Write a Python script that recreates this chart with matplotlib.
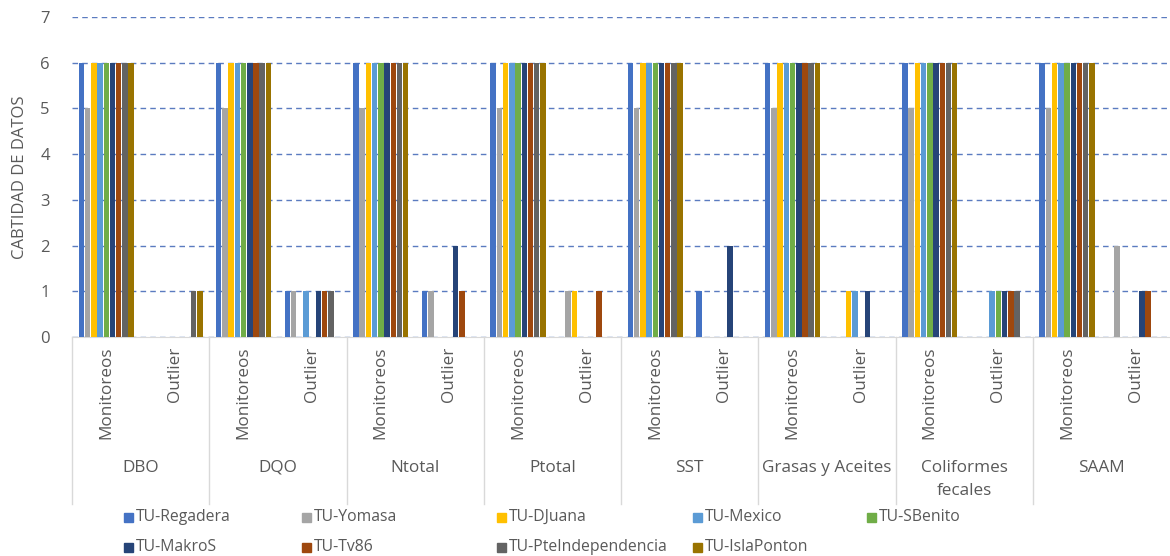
import matplotlib.pyplot as plt
import matplotlib.transforms as mtransforms
from matplotlib.patches import Rectangle
import numpy as np

plt.rcParams["font.family"] = ["Open Sans", "DejaVu Sans"]

# Parameters and sub-categories along the x axis
parametros = ["DBO", "DQO", "Ntotal", "Ptotal", "SST", "Grasas y Aceites",
              "Coliformes\nfecales", "SAAM"]
subcategorias = ["Monitoreos", "Outlier"]

estaciones = ["TU-Regadera", "TU-Yomasa", "TU-DJuana", "TU-Mexico", "TU-SBenito",
              "TU-MakroS", "TU-Tv86", "TU-PteIndependencia", "TU-IslaPonton"]
colores = ["#4472C4", "#A5A5A5", "#FFC000", "#5B9BD5", "#70AD47",
           "#264478", "#9E480E", "#636363", "#997300"]

# Number of monitoring campaigns per station (same for every parameter)
monitoreos = [6, 5, 6, 6, 6, 6, 6, 6, 6]

# Outliers per parameter, one value per station
outliers = {
    "DBO":                 [0, 0, 0, 0, 0, 0, 0, 1, 1],
    "DQO":                 [1, 1, 0, 1, 0, 1, 1, 1, 0],
    "Ntotal":              [1, 1, 0, 0, 0, 2, 1, 0, 0],
    "Ptotal":              [0, 1, 1, 0, 0, 0, 1, 0, 0],
    "SST":                 [1, 0, 0, 0, 0, 2, 0, 0, 0],
    "Grasas y Aceites":    [0, 0, 1, 1, 0, 1, 0, 0, 0],
    "Coliformes\nfecales": [0, 0, 0, 1, 1, 1, 1, 1, 0],
    "SAAM":                [0, 2, 0, 0, 0, 1, 1, 0, 0],
}

texto = "#595959"
fig = plt.figure(figsize=(11.7, 5.56), dpi=100)
ax = fig.add_axes([72 / 1170, 1 - 337 / 556, 1 - 72 / 1170, 320 / 556])

n_slots = len(parametros) * len(subcategorias)
paso = 0.0905
offsets = (np.arange(len(estaciones)) - (len(estaciones) - 1) / 2) * paso

for i, est in enumerate(estaciones):
    valores = []
    for p in parametros:
        valores.append(monitoreos[i])
        valores.append(outliers[p][i])
    x = np.arange(n_slots) + 0.5 + offsets[i]
    ax.bar(x, valores, width=paso * 0.88, color=colores[i], zorder=3)

ax.set_xlim(0, n_slots)
ax.set_ylim(0, 7)
ax.set_yticks(range(0, 8))
ax.yaxis.grid(True, color="#5B7BC0", linestyle=(0, (4, 3)), linewidth=1.0)
ax.set_axisbelow(True)
for s in ["left", "right", "top"]:
    ax.spines[s].set_visible(False)
ax.spines["bottom"].set_color("#D9D9D9")
ax.tick_params(axis="y", length=0, labelsize=12, labelcolor=texto, pad=16)
ax.set_xticks([])
ax.set_ylabel("CABTIDAD DE DATOS", fontsize=12, color=texto, labelpad=9)

# Two-level category axis
trans = mtransforms.blended_transform_factory(ax.transData, ax.transAxes)
fondo = -(504 - 337) / 320
for g, p in enumerate(parametros):
    x0 = g * 2
    ax.plot([x0, x0], [0, fondo], color="#D9D9D9", lw=1, transform=trans, clip_on=False)
    for k, sub in enumerate(subcategorias):
        ax.text(x0 + k + 0.5, -0.03, sub, rotation=90, ha="center", va="top",
                fontsize=12.3, color=texto, transform=trans)
    ax.text(x0 + 1, -(460 - 337) / 320, p, ha="center", va="top", fontsize=12.3,
            color=texto, transform=trans, linespacing=1.6)

# Legend in two rows below the chart
col_x = [124, 302, 497, 693, 867]
fila_y = [517, 547]
for i, est in enumerate(estaciones):
    fila, col = divmod(i, 5)
    x = col_x[col] / 1170
    y = 1 - fila_y[fila] / 556
    fig.patches.append(Rectangle((x, y - 4.5 / 556), 9 / 1170, 9 / 556,
                                 transform=fig.transFigure, color=colores[i]))
    fig.text(x + 12 / 1170, y, est, ha="left", va="center", fontsize=11.3, color=texto)

fig.savefig("out.png", dpi=100, facecolor="white")
